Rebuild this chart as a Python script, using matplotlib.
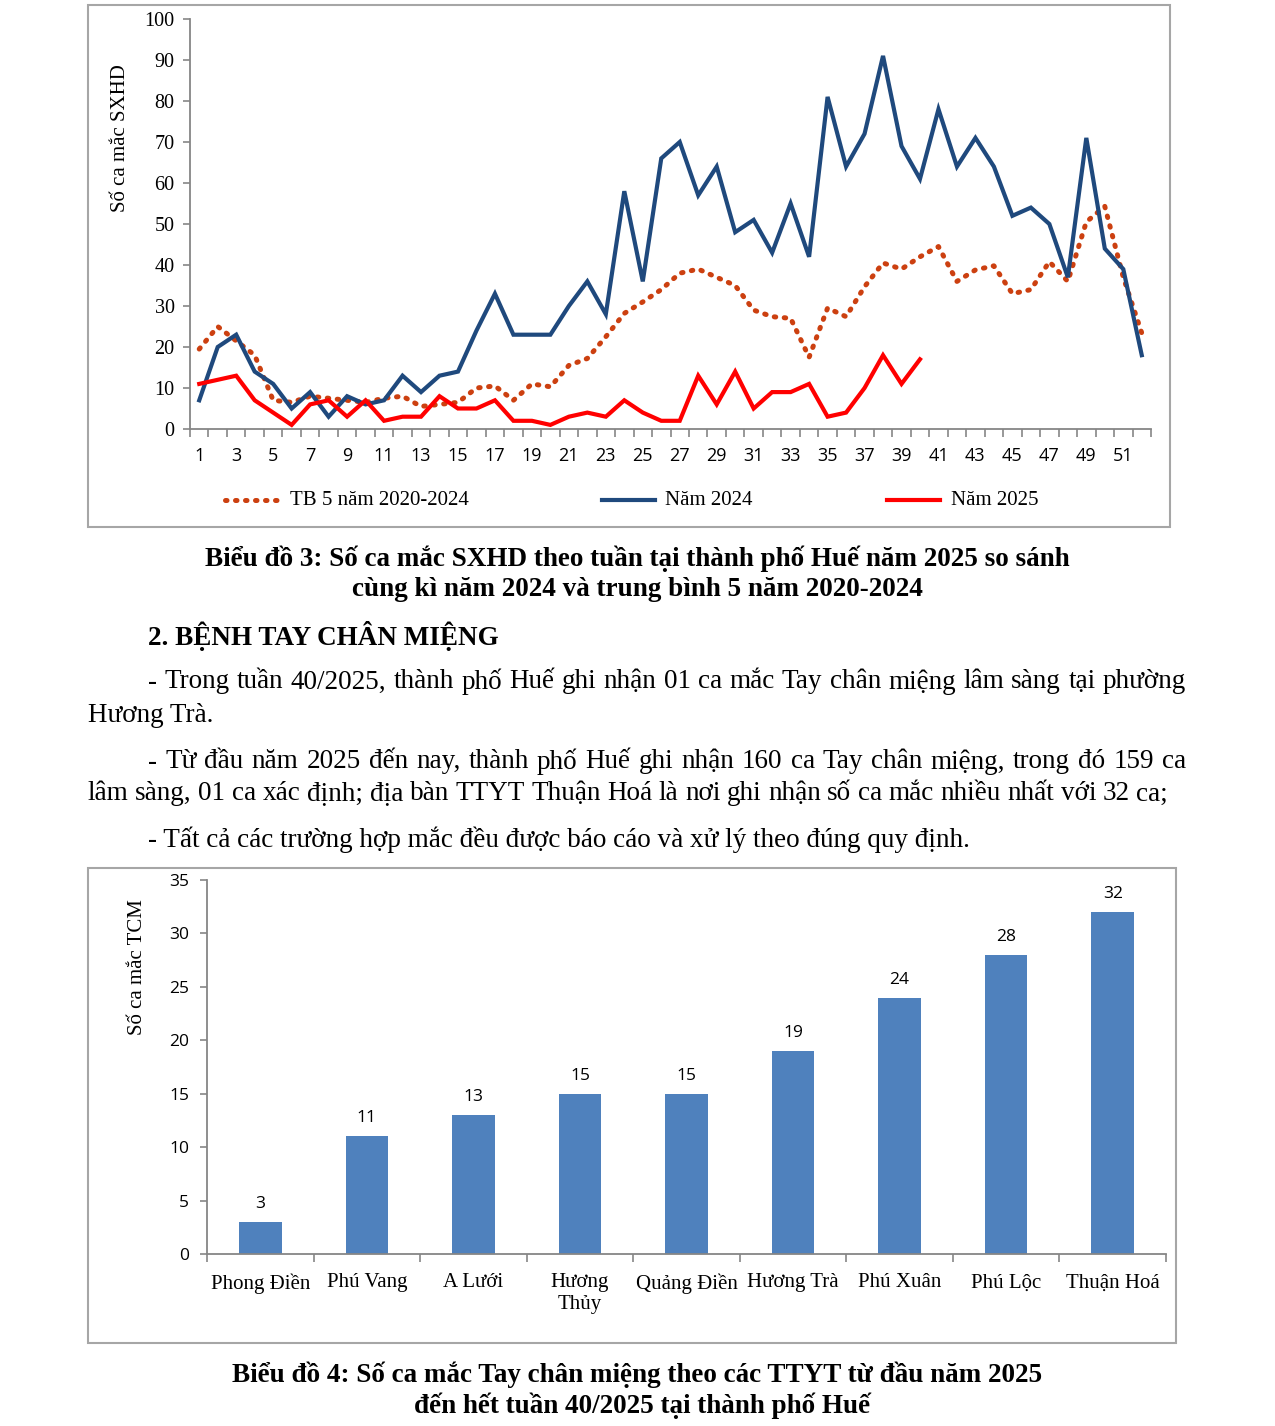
import matplotlib
matplotlib.use("Agg")
import numpy as np
from matplotlib import pyplot as plt
from matplotlib.lines import Line2D
from matplotlib.patches import Rectangle

# --- data: weekly dengue cases (chart 3) ---
weeks = list(range(1, 53))
avg_5y = [19.5, 25, 21.5, 18, 7, 6.5, 8, 7.5, 7, 6.5, 7.5, 8, 5.5, 6, 6.5, 10, 10.5, 7, 11,
          10.3, 15.5, 17.2, 22.5, 28.2, 31, 34, 38, 39, 37, 35, 29, 27.4, 27, 17.5, 29.5,
          27.4, 34.7, 40.5, 39, 42, 44.5, 36, 38.8, 39.8, 33, 34, 40.8, 36, 50.5, 54.3, 37, 23.4]
cases_2024 = [7, 20, 23, 14, 11, 5, 9, 3, 8, 6, 7, 13, 9, 13, 14, 24, 33, 23, 23, 23, 30, 36,
              28, 58, 36, 66, 70, 57, 64, 48, 51, 43, 55, 42, 81, 64, 72, 91, 69, 61, 78, 64,
              71, 64, 52, 54, 50, 37, 71, 44, 39, 18]
cases_2025 = [11, 12, 13, 7, 4, 1, 6, 7, 3, 7, 2, 3, 3, 8, 5, 5, 7, 2, 2, 1, 3, 4, 3, 7, 4,
              2, 2, 13, 6, 14, 5, 9, 9, 11, 3, 4, 10, 18, 11, 17]
weeks_2025 = weeks[:len(cases_2025)]
series_names = ["TB 5 năm 2020-2024", "Năm 2024", "Năm 2025"]

# --- data: hand-foot-mouth cases by health centre (chart 4) ---
centres = ["Phong Điền", "Phú Vang", "A Lưới", "Hương\nThủy", "Quảng Điền",
           "Hương Trà", "Phú Xuân", "Phú Lộc", "Thuận Hoá"]
hfm_cases = [3, 11, 13, 15, 15, 19, 24, 28, 32]

W, H = 1275, 1426
SERIF = "Liberation Serif"
SANS = "Open Sans"
GREY = "#868686"
BLUE = "#1F497D"
RED = "#FF0000"
DOT = "#CC4010"
BODY_SIZE = 19.5
CHART_SERIF = 15

fig = plt.figure(figsize=(W / 100, H / 100), dpi=100)


def fx(x):
    return x / W


def fy(y):
    return 1 - y / H


def box(x0, y0, x1, y1):
    fig.add_artist(Rectangle((fx(x0), fy(y1)), fx(x1) - fx(x0), fy(y0) - fy(y1),
                             transform=fig.transFigure, fill=False, ec="#A6A6A6", lw=1.5))


# ---------------- chart 3 ----------------
box(88, 5, 1170, 527)
ax1 = fig.add_axes([fx(190), fy(429), (1151 - 190) / W, (429 - 19) / H])
ax1.plot(weeks, avg_5y, color=DOT, lw=3.6, ls=(0, (0.3, 1.7)), dash_capstyle="round")
ax1.plot(weeks, cases_2024, color=BLUE, lw=3, solid_joinstyle="miter")
ax1.plot(weeks_2025, cases_2025, color=RED, lw=3, solid_joinstyle="miter")
ax1.set_xlim(0.5, 52.5)
ax1.set_ylim(0, 100)
ax1.set_yticks(np.arange(0, 101, 10))
ax1.set_xticks(weeks[::2])
ax1.set_xticks(np.arange(0.5, 53, 1), minor=True)
for s in ["top", "right"]:
    ax1.spines[s].set_visible(False)
for s in ["left", "bottom"]:
    ax1.spines[s].set_color(GREY)
    ax1.spines[s].set_linewidth(1.3)
ax1.tick_params(axis="y", length=5, width=1.2, color=GREY, pad=6, labelsize=14.5)
ax1.tick_params(axis="x", which="major", length=0, pad=13, labelsize=13)
ax1.tick_params(axis="x", which="minor", length=6, width=1.2, color=GREY)
for lab in ax1.get_yticklabels():
    lab.set_fontfamily(SERIF)
for lab in ax1.get_xticklabels():
    lab.set_fontfamily(SANS)
fig.text(fx(121), fy(138), "Số ca mắc SXHD", rotation=90, ha="center", va="center",
         family=SERIF, fontsize=CHART_SERIF)

# legend drawn by hand to match placement
leg = [(225, 277, DOT, (0, (0.3, 1.7)), 290), (602, 655, BLUE, "-", 665),
       (887, 940, RED, "-", 951)]
for (x0, x1, c, ls, tx), name in zip(leg, series_names):
    fig.add_artist(Line2D([fx(x0), fx(x1)], [fy(500), fy(500)], transform=fig.transFigure,
                          color=c, lw=3.6 if ls != "-" else 3, ls=ls, dash_capstyle="round"))
    fig.text(fx(tx), fy(500), name, ha="left", va="center", family=SERIF, fontsize=CHART_SERIF)

# ---------------- text between charts ----------------
cap = dict(family=SERIF, fontsize=BODY_SIZE, fontweight="bold", ha="center", va="center")
fig.text(fx(637), fy(559), "Biểu đồ 3: Số ca mắc SXHD theo tuần tại thành phố Huế năm 2025 so sánh", **cap)
fig.text(fx(637), fy(590), "cùng kì năm 2024 và trung bình 5 năm 2020-2024", **cap)
fig.text(fx(148), fy(636), "2. BỆNH TAY CHÂN MIỆNG", family=SERIF, fontsize=BODY_SIZE,
         fontweight="bold", ha="left", va="center")

body = dict(family=SERIF, fontsize=BODY_SIZE, va="center")
renderer = fig.canvas.get_renderer()


def justified(x0, x1, y, line):
    words = line.split(" ")
    arts = [fig.text(0, fy(y), w, ha="left", **body) for w in words]
    widths = [a.get_window_extent(renderer).width for a in arts]
    gap = (x1 - x0 - sum(widths)) / (len(words) - 1)
    x = x0
    for a, w in zip(arts, widths):
        a.set_x(fx(x))
        x += w + gap


justified(148, 1186, 682, "- Trong tuần 40/2025, thành phố Huế ghi nhận 01 ca mắc Tay chân miệng lâm sàng tại phường")
fig.text(fx(88), fy(715), "Hương Trà.", ha="left", **body)
justified(148, 1186, 762, "- Từ đầu năm 2025 đến nay, thành phố Huế ghi nhận 160 ca Tay chân miệng, trong đó 159 ca")
justified(88, 1168, 794, "lâm sàng, 01 ca xác định; địa bàn TTYT Thuận Hoá là nơi ghi nhận số ca mắc nhiều nhất với 32 ca;")
fig.text(fx(148), fy(840), "- Tất cả các trường hợp mắc đều được báo cáo và xử lý theo đúng quy định.",
         ha="left", **body)

# ---------------- chart 4 ----------------
box(88, 868, 1176, 1343)
ax2 = fig.add_axes([fx(207), fy(1254), (1166 - 207) / W, (1254 - 880) / H])
xpos = np.arange(len(centres))
ax2.bar(xpos, hfm_cases, width=0.4, color="#4F81BD")
for x, v in zip(xpos, hfm_cases):
    ax2.annotate(str(v), (x, v), xytext=(0, 10), textcoords="offset pixels",
                 ha="center", va="bottom", family=SANS, fontsize=12.5)
ax2.set_xlim(-0.5, len(centres) - 0.5)
ax2.set_ylim(0, 35)
ax2.set_yticks(np.arange(0, 36, 5))
ax2.set_xticks(xpos)
ax2.set_xticklabels(centres, family=SERIF, fontsize=CHART_SERIF, linespacing=1.2)
ax2.set_xticks(np.arange(-0.5, len(centres), 1), minor=True)
for s in ["top", "right"]:
    ax2.spines[s].set_visible(False)
for s in ["left", "bottom"]:
    ax2.spines[s].set_color(GREY)
    ax2.spines[s].set_linewidth(1.3)
ax2.tick_params(axis="y", length=5, width=1.2, color=GREY, pad=8, labelsize=12.5)
ax2.tick_params(axis="x", which="major", length=0, pad=14)
ax2.tick_params(axis="x", which="minor", length=6, width=1.2, color=GREY)
for lab in ax2.get_yticklabels():
    lab.set_fontfamily(SANS)
fig.text(fx(138), fy(967), "Số ca mắc TCM", rotation=90, ha="center", va="center",
         family=SERIF, fontsize=CHART_SERIF)

fig.text(fx(637), fy(1375), "Biểu đồ 4: Số ca mắc Tay chân miệng theo các TTYT từ đầu năm 2025", **cap)
fig.text(fx(642), fy(1406), "đến hết tuần 40/2025 tại thành phố Huế", **cap)

fig.savefig("out.png", dpi=100)
